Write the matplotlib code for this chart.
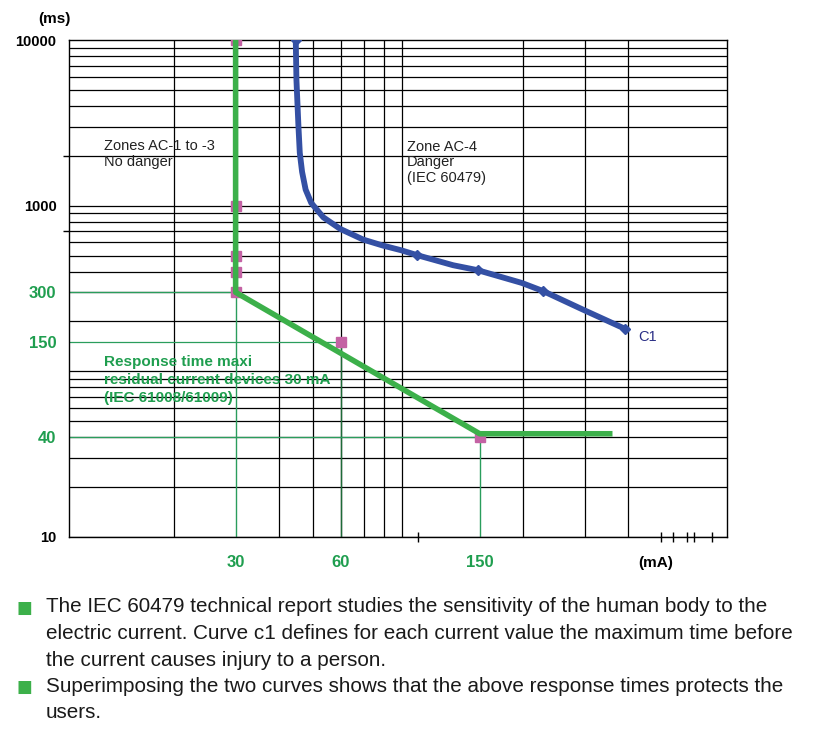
import numpy as np
import matplotlib
matplotlib.use("Agg")
import matplotlib.pyplot as plt

plt.rcParams["font.family"] = ["Liberation Sans", "DejaVu Sans"]

W, H = 828, 747

# curve c1 (IEC 60479), current in mA / time in ms
c1_ma = [44.6, 44.8, 45.4, 45.8, 46.5, 47.6, 49.4, 53.5, 59.8, 69.6, 79.3, 89.4, 99.5, 125.9, 148, 197.7, 228, 296, 390]
c1_ms = [10000, 5740, 3005, 2085, 1600, 1250, 1038, 850, 724, 624, 574, 538, 502, 437, 408, 342, 305, 236, 181]
c1_marks = [0, 12, 14, 16, 18]

# response time of a 30 mA RCD
rcd_ma = [30, 30, 150, 360]
rcd_ms = [10000, 300, 42, 42]
pts_ma = [30, 30, 30, 30, 30, 60, 150]
pts_ms = [10000, 1000, 500, 400, 300, 150, 40]

# guide levels and axis labels
guide_ma = [30, 60, 150]
guide_ms = [300, 150, 40]
x_ticks = [30, 60, 150]
y_ticks = [10, 40, 150, 300, 1000, 10000]
y_colors = ["black", "green", "green", "green", "black", "black"]
x_grid = [20, 40, 50, 60, 70, 80, 90, 200, 300, 400]
x_marks = [100, 495, 537, 590, 617, 694]
y_grid = [m * 10 ** e for e in (1, 2, 3) for m in range(1, 10)]

GREEN = "#3cb04a"
THIN = "#2a9d5c"
BLUE = "#3450a4"
PINK = "#c462a4"
TXT_G = "#1f9e4f"

def px(x, y):
    return x / W, 1 - y / H

fig = plt.figure(figsize=(W / 100, H / 100), dpi=100)
ax = fig.add_axes([69 / W, 1 - 537 / H, 658 / W, 497 / H])
ax.set_xscale("log")
ax.set_yscale("log")
ax.set_xlim(10, 766)
ax.set_ylim(10, 10000)

# grid
ax.hlines(y_grid, 10, 766, color="black", lw=0.9, zorder=1)
ax.vlines(x_grid, 10, 10000, color="black", lw=0.9, zorder=1)

# thin green guides
for gx, gy in zip(guide_ma, guide_ms):
    ax.hlines(gy, 10, gx, color=THIN, lw=0.9, zorder=2)
    ax.vlines(gx, 10, gy, color="#1e6b38" if gx == 60 else THIN, lw=1.0, zorder=2)

ax.plot(pts_ma, pts_ms, ls="none", marker="s", ms=6.5, color=PINK, zorder=3)
ax.plot(rcd_ma, rcd_ms, color=GREEN, lw=4, solid_capstyle="butt", zorder=4)
ax.plot(c1_ma, c1_ms, color=BLUE, lw=4.2, marker="D", ms=5.5, markevery=c1_marks,
        solid_joinstyle="round", zorder=5)

for s in ax.spines.values():
    s.set_linewidth(1.0)

ax.set_xticks(x_ticks)
ax.set_xticklabels([str(v) for v in x_ticks])
ax.set_xticks(x_marks, minor=True)
ax.set_xticklabels([], minor=True)
ax.tick_params(axis="x", which="major", length=0, pad=13, labelsize=12,
               labelcolor=TXT_G)
ax.tick_params(axis="x", which="minor", length=7, direction="inout", width=1)
for t in ax.get_xticklabels():
    t.set_fontweight("bold")

ax.set_yticks(y_ticks)
ax.set_yticklabels([str(v) for v in y_ticks])
ax.set_yticks([700, 2000], minor=True)
ax.set_yticklabels([], minor=True)
ax.tick_params(axis="y", which="major", length=0, pad=9)
ax.tick_params(axis="y", which="minor", length=4, width=1)
for t, c in zip(ax.get_yticklabels(), y_colors):
    t.set_fontweight("bold")
    if c == "green":
        t.set_color(TXT_G)
        t.set_fontsize(12)
    else:
        t.set_fontsize(10.5)

# axis units
fig.text(*px(38, 19), "(ms)", fontsize=11, fontweight="bold", va="center")
fig.text(*px(638, 563), "(mA)", fontsize=11, fontweight="bold", va="center")

# annotations
fig.text(*px(104, 139), "Zones AC-1 to -3\nNo danger", fontsize=10.5, va="top",
         linespacing=1.15, color="#222222")
fig.text(*px(407, 140), "Zone AC-4\nDanger\n(IEC 60479)", fontsize=10.5, va="top",
         linespacing=1.12, color="#222222")
fig.text(*px(638, 337), "C1", fontsize=10.5, va="center", color="#2a2f86")
fig.text(*px(104, 355), "Response time maxi\nresidual current devices 30 mA\n(IEC 61008/61009)",
         fontsize=11, fontweight="bold", va="top", linespacing=1.35, color=TXT_G)

# footnote
lines = [
    "The IEC 60479 technical report studies the sensitivity of the human body to the",
    "electric current. Curve c1 defines for each current value the maximum time before",
    "the current causes injury to a person.",
    "Superimposing the two curves shows that the above response times protects the",
    "users.",
]
base = [612.5, 639, 665.5, 692, 718.5]
for ln, b in zip(lines, base):
    fig.text(*px(46, b), ln, fontsize=14.9, va="baseline", color="#1a1a1a")
for b in (base[0], base[3]):
    fig.text(*px(17, b), "\u25a0", fontsize=12, va="baseline", color=GREEN,
             family=["DejaVu Sans"])

fig.savefig("out.png", dpi=100)
